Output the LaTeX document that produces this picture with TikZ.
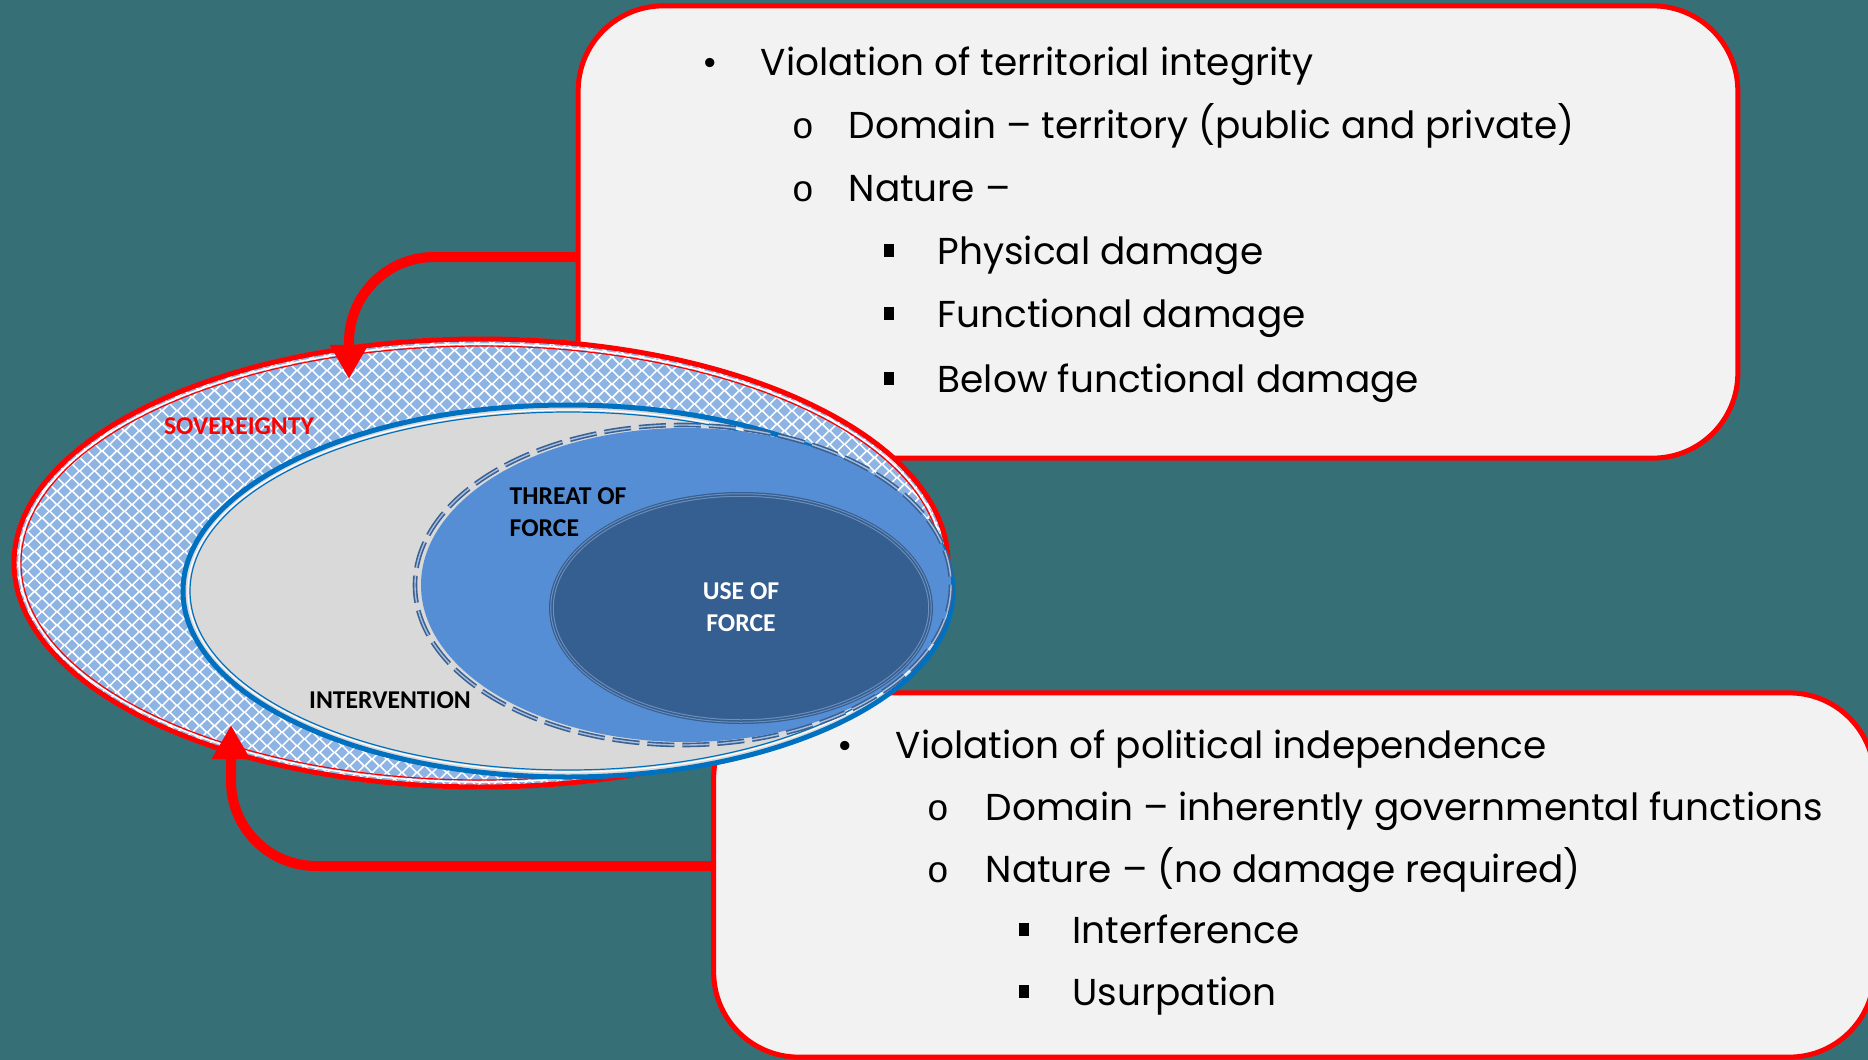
\documentclass[tikz,border=0pt]{standalone}
\usepackage{fontspec}
\setmainfont{Poppins}
\newfontfamily\lblfont{Carlito}
\newfontfamily\bulmono{Liberation Mono}
\usetikzlibrary{arrows.meta}

\definecolor{bgteal}{RGB}{55,111,118}
\definecolor{boxgrey}{RGB}{242,242,242}
\definecolor{sovred}{RGB}{255,0,0}
\definecolor{sovdiam}{RGB}{142,180,227}
\definecolor{intblue}{RGB}{0,112,192}
\definecolor{intfill}{RGB}{217,217,217}
\definecolor{tffill}{RGB}{85,142,213}
\definecolor{tfdash}{RGB}{58,96,146}
\definecolor{tfpale}{RGB}{165,190,222}
\definecolor{uofill}{RGB}{54,95,145}
\definecolor{uoline}{RGB}{110,145,190}

\tikzset{
  infobox/.style={draw=sovred, line width=0.05cm, fill=boxgrey, rounded corners=0.85cm, inner sep=0pt},
  itm/.style={anchor=base west, inner sep=0pt, font=\fontsize{10.65}{13}\selectfont},
  bul/.style={anchor=base, inner sep=0pt, font=\fontsize{10.65}{13}\selectfont},
  subbul/.style={anchor=base, inner sep=0pt, font=\bulmono\fontsize{10.5}{12}\selectfont},
  sqbul/.style={anchor=base, inner sep=0pt},
  lbl/.style={inner sep=0pt, font=\lblfont\bfseries\fontsize{7.3}{9.1}\selectfont},
  linkarrow/.style={draw=sovred, line width=0.1cm, rounded corners=0.85cm,
    -{Triangle[length=0.34cm,width=0.36cm]}}
}

\begin{document}
\begin{tikzpicture}[x=0.01cm,y=-0.01cm]
  \useasboundingbox (0,0) rectangle (1868,1060);
  \fill[bgteal] (0,0) rectangle (1868,1060);

  \node[infobox, minimum width=11.59cm, minimum height=4.52cm] (topbox) at (1158,232) {};
  \node[infobox, minimum width=11.6cm, minimum height=3.64cm] (botbox) at (1294,875) {};

  \node[bul] (vtib) at (710,75) {•};
  \node[itm] (vti) at (760,75) {Violation of territorial integrity};
  \node[subbul] (tdomb) at (803,138) {o};
  \node[itm] (tdom) at (848,138) {Domain – territory (public and private)};
  \node[subbul] (tnatb) at (803,201) {o};
  \node[itm] (tnat) at (848,201) {Nature –};
  \node[sqbul] (physb) at (889,264) {\rule[2pt]{3pt}{3.6pt}};
  \node[itm] (phys) at (937,264) {Physical damage};
  \node[sqbul] (funcb) at (889,327) {\rule[2pt]{3pt}{3.6pt}};
  \node[itm] (func) at (937,327) {Functional damage};
  \node[sqbul] (belowb) at (889,392) {\rule[2pt]{3pt}{3.6pt}};
  \node[itm] (below) at (937,392) {Below functional damage};

  \node[bul] (vpib) at (845,758) {•};
  \node[itm] (vpi) at (895,758) {Violation of political independence};
  \node[subbul] (pdomb) at (938,820) {o};
  \node[itm] (pdom) at (985,820) {Domain – inherently governmental functions};
  \node[subbul] (pnatb) at (938,882) {o};
  \node[itm] (pnat) at (985,882) {Nature – (no damage required)};
  \node[sqbul] (interb) at (1024,943) {\rule[2pt]{3pt}{3.6pt}};
  \node[itm] (inter) at (1072,943) {Interference};
  \node[sqbul] (usurpb) at (1024,1005) {\rule[2pt]{3pt}{3.6pt}};
  \node[itm] (usurp) at (1072,1005) {Usurpation};

  % sovereignty: diamond grid
  \begin{scope}
    \clip (481,563) ellipse[x radius=469, y radius=226];
    \fill[white] (0,330) rectangle (960,800);
    \fill[sovdiam] \foreach \i in {0,...,63} {\foreach \j in {0,...,34} {
        (12+15*\i,337+13.4*\j) +(-5.8,0) -- +(0,-5.8) -- +(5.8,0) -- +(0,5.8) -- cycle
        (19.5+15*\i,343.7+13.4*\j) +(-5.8,0) -- +(0,-5.8) -- +(5.8,0) -- +(0,5.8) -- cycle}};
  \end{scope}
  \draw[sovred, line width=0.05cm] (481,563) ellipse[x radius=467, y radius=224];
  \draw[white, line width=0.015cm] (481,563) ellipse[x radius=462, y radius=219];
  \draw[sovred, line width=0.012cm] (481,563) ellipse[x radius=460, y radius=217];

  \fill[intfill] (568,591) ellipse[x radius=387, y radius=188];
  \draw[intblue, line width=0.05cm] (568,591) ellipse[x radius=385, y radius=186];
  \draw[white, line width=0.012cm] (568,591) ellipse[x radius=380, y radius=181];
  \draw[intblue, line width=0.012cm] (568,591) ellipse[x radius=378, y radius=179];

  \fill[tffill] (686,585) ellipse[x radius=265, y radius=157];
  \draw[tfdash, line width=0.016cm, double=tfpale, double distance=0.014cm,
    dash pattern=on 0.27cm off 0.08cm] (683,585) ellipse[x radius=268, y radius=160];

  \fill[uofill] (741,608) ellipse[x radius=192, y radius=116];
  \draw[uoline, line width=0.01cm, double=uofill, double distance=0.015cm] (741,608) ellipse[x radius=189, y radius=113];

  \node[lbl, text=sovred] (sovl) at (239,426) {SOVEREIGNTY};
  \node[lbl, anchor=west, align=left] (tofl) at (509,512) {THREAT OF\\FORCE};
  \node[lbl, text=white, align=center] (uofl) at (741,607) {USE OF\\FORCE};
  \node[lbl] (intl) at (390,700) {INTERVENTION};

  \coordinate (sovtop) at (349,379);
  \coordinate (sovbot) at (231,725);
  \draw[linkarrow] ([yshift=-0.25cm]topbox.west) -| (sovtop);
  \draw[linkarrow] ([yshift=0.09cm]botbox.west) -| (sovbot);
\end{tikzpicture}
\end{document}
